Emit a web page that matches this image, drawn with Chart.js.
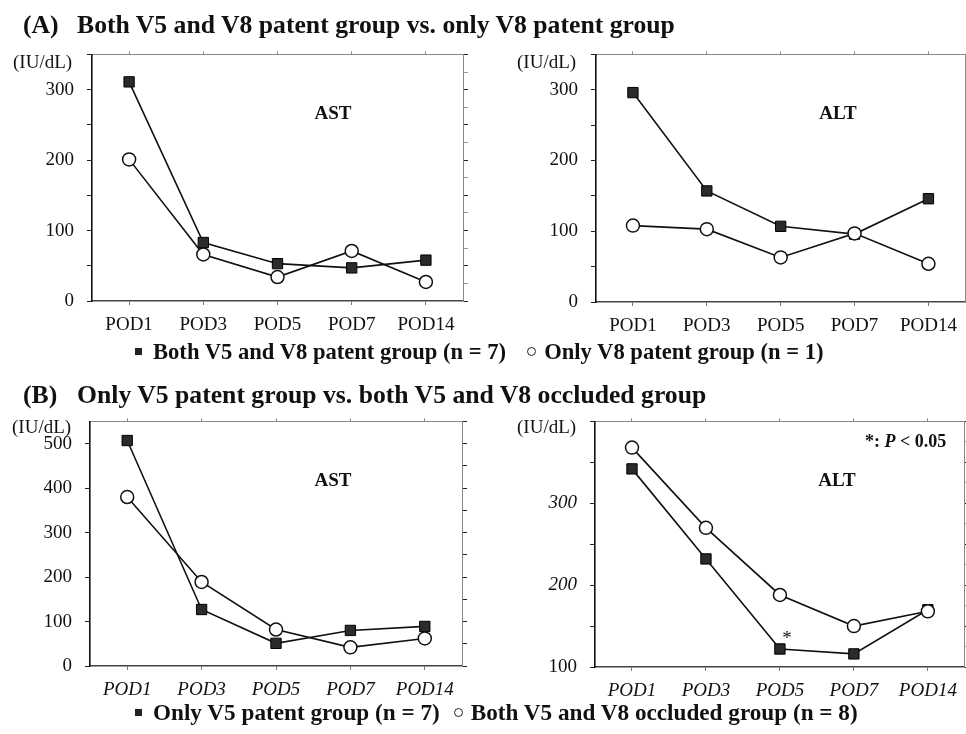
<!DOCTYPE html>
<html>
<head>
<meta charset="utf-8">
<script src="https://cdn.jsdelivr.net/npm/chart.js@4.4.1/dist/chart.umd.min.js"></script>
<style>
  body{margin:0;background:#fff;}
  #wrap{position:relative;width:966px;height:734px;overflow:hidden;font-family:'Liberation Serif','Times New Roman',serif;color:#111;}
  #wrap canvas{position:absolute;}
  .t{position:absolute;white-space:nowrap;line-height:30px;height:30px;z-index:2;}
  .title{font-size:25.7px;font-weight:bold;}
  .legend{font-weight:bold;}
  .unit{font-size:19px;}
  .lab{font-size:19px;font-weight:bold;transform:translateX(-50%);}
  .sq{display:inline-block;width:7px;height:7px;background:#222;vertical-align:middle;position:relative;top:-2px;}
  .ci{display:inline-block;width:7px;height:7px;border:1.3px solid #222;border-radius:50%;vertical-align:middle;position:relative;top:-2px;}
</style>
</head>
<body>
<div id="wrap">
  <div class="t title" style="left:23px;top:10px;">(A)</div>
  <div class="t title" style="left:77px;top:10px;">Both V5 and V8 patent group vs. only V8 patent group</div>
  <div class="t title" style="left:23px;top:380px;">(B)</div>
  <div class="t title" style="left:77px;top:380px;">Only V5 patent group vs. both V5 and V8 occluded group</div>

  <div class="t unit" style="left:13px;top:47px;">(IU/dL)</div>
  <div class="t unit" style="left:517px;top:47px;">(IU/dL)</div>
  <div class="t unit" style="left:12px;top:412px;">(IU/dL)</div>
  <div class="t unit" style="left:517px;top:412px;">(IU/dL)</div>

  <div class="t lab" style="left:333px;top:98px;">AST</div>
  <div class="t lab" style="left:838px;top:98px;">ALT</div>
  <div class="t lab" style="left:333px;top:465px;">AST</div>
  <div class="t lab" style="left:837px;top:465px;">ALT</div>
  <div class="t" style="left:865px;top:426px;font-size:18px;font-weight:bold;">*: <i>P</i> &lt; 0.05</div>

  <div class="t legend" style="left:135px;top:337px;font-size:22.6px;"><span class="sq"></span><span style="margin-left:11px;">Both V5 and V8 patent group (n = 7)</span><span class="ci" style="margin-left:21px;"></span><span style="margin-left:8px;">Only V8 patent group (n = 1)</span></div>
  <div class="t legend" style="left:135px;top:697px;font-size:23.2px;"><span class="sq"></span><span style="margin-left:11px;">Only V5 patent group (n = 7)</span><span class="ci" style="margin-left:14px;"></span><span style="margin-left:8px;">Both V5 and V8 occluded group (n = 8)</span></div>
</div>
<script>
var days = ['POD1', 'POD3', 'POD5', 'POD7', 'POD14'];

// (A) both V5+V8 patent vs only V8 patent
var astBothPatent = [311, 83, 53, 47, 58];
var astOnlyV8 = [201, 66, 34, 71, 27];
var altBothPatent = [296, 157, 107, 96, 146];
var altOnlyV8 = [108, 103, 63, 97, 54];

// (B) only V5 patent vs both occluded
var astOnlyV5 = [507, 127, 51, 80, 89];
var astOccluded = [380, 189, 82, 42, 62];
var altOnlyV5 = [342, 232, 122, 116, 170];
var altOccluded = [368, 270, 188, 150, 168];

// y axis: [min, max, step] and which ticks get a label
var astARange = [0, 350, 25], astATicks = [0, 100, 200, 300];
var altARange = [0, 350, 25], altATicks = [0, 100, 200, 300];
var astBRange = [0, 550, 50], astBTicks = [0, 100, 200, 300, 400, 500];
var altBRange = [100, 400, 25], altBTicks = [100, 200, 300];

var FONT = "'Liberation Serif', 'Times New Roman', serif";

//fix the box sizes so the plot areas land where the original ones are
var fit = function(key, val){
  return function(s){ s[key] = val; };
};

var starPlugin = {
  id: 'star',
  afterDatasetsDraw: function(chart){
    var ctx = chart.ctx, x = chart.scales.x.getPixelForValue(2), y = chart.scales.y.getPixelForValue(altOnlyV5[2]);
    ctx.save();
    ctx.font = '19px ' + FONT;
    ctx.fillStyle = '#111';
    ctx.textAlign = 'center';
    ctx.textBaseline = 'middle';
    ctx.fillText('*', x + 7, y - 10);
    ctx.restore();
  }
};

var makePanel = function(p){
  var canvas = document.createElement('canvas'), range = p.range, labelled = p.ticks;
  canvas.width = p.w;
  canvas.height = p.h;
  canvas.style.left = p.left + 'px';
  canvas.style.top = p.top + 'px';
  document.getElementById('wrap').insertBefore(canvas, document.getElementById('wrap').firstChild);

  var tickColor = function(c){
    return c.tick && c.tick.value % 50 === 0 ? '#222' : '#999';
  };
  var yScale = function(pos, w){
    return {
      type: 'linear', position: pos, min: range[0], max: range[1],
      afterFit: fit('width', w),
      grid: { drawOnChartArea: false, drawTicks: true, tickLength: 5, tickColor: tickColor },
      border: pos === 'left' ? { color: '#111', width: 1.6 } : { color: '#888', width: 1 },
      ticks: {
        display: pos === 'left', stepSize: range[2], maxTicksLimit: 100, padding: 13, color: '#111',
        font: function(c){ return { family: FONT, size: 19, style: p.yItalic && c.tick && p.yItalic.indexOf(c.tick.value) > -1 ? 'italic' : 'normal' }; },
        callback: function(v){ return labelled.indexOf(v) > -1 ? String(v) : ''; }
      }
    };
  };

  return new Chart(canvas.getContext('2d'), {
    type: 'line',
    data: {
      labels: days,
      datasets: [{
        label: p.names[0], data: p.square, order: 1,
        borderColor: '#111', borderWidth: 1.6,
        pointStyle: 'rect', pointRadius: 7.3, pointBackgroundColor: '#2b2b2b', pointBorderColor: '#000', pointBorderWidth: 1
      }, {
        label: p.names[1], data: p.circle, order: 0,
        borderColor: '#111', borderWidth: 1.6,
        pointStyle: 'circle', pointRadius: 6.5, pointBackgroundColor: '#fff', pointBorderColor: '#111', pointBorderWidth: 1.5
      }]
    },
    options: {
      responsive: false, animation: false, devicePixelRatio: 1,
      layout: { padding: 0, autoPadding: false },
      plugins: { legend: { display: false }, tooltip: { enabled: false } },
      scales: {
        x: {
          type: 'category', position: 'bottom', offset: true,
          afterFit: fit('height', p.xH),
          grid: { drawOnChartArea: false, drawTicks: true, tickLength: 4, offset: false, tickColor: '#777' },
          border: { color: '#444', width: 1.5 },
          ticks: { padding: 9, color: '#111', maxRotation: 0, autoSkip: false,
            font: { family: FONT, size: 19, style: p.italic ? 'italic' : 'normal' } }
        },
        x2: {
          type: 'category', position: 'top', offset: true, labels: days,
          afterFit: fit('height', p.x2H),
          grid: { drawOnChartArea: false, drawTicks: true, tickLength: 3, offset: false, tickColor: '#888' },
          border: { color: '#888', width: 1 },
          ticks: { display: false }
        },
        y: yScale('left', p.yW),
        y2: yScale('right', p.y2W)
      }
    },
    plugins: p.star ? [starPlugin] : []
  });
};

var panels = [
  { left: 0, top: 30, w: 480, h: 320, yW: 92, y2W: 17, x2H: 22, xH: 49,
    range: astARange, ticks: astATicks, square: astBothPatent, circle: astOnlyV8,
    names: ['Both V5 and V8 patent group (n = 7)', 'Only V8 patent group (n = 1)'] },
  { left: 480, top: 30, w: 486, h: 320, yW: 116, y2W: 0, x2H: 23, xH: 48,
    range: altARange, ticks: altATicks, square: altBothPatent, circle: altOnlyV8,
    names: ['Both V5 and V8 patent group (n = 7)', 'Only V8 patent group (n = 1)'] },
  { left: 0, top: 397, w: 480, h: 320, yW: 90, y2W: 18, x2H: 22, xH: 51, italic: true,
    range: astBRange, ticks: astBTicks, square: astOnlyV5, circle: astOccluded,
    names: ['Only V5 patent group (n = 7)', 'Both V5 and V8 occluded group (n = 8)'] },
  { left: 480, top: 397, w: 486, h: 320, yW: 115, y2W: 0, x2H: 23, xH: 50, italic: true, yItalic: [200, 300], star: true,
    range: altBRange, ticks: altBTicks, square: altOnlyV5, circle: altOccluded,
    names: ['Only V5 patent group (n = 7)', 'Both V5 and V8 occluded group (n = 8)'] }
];

panels.forEach(makePanel);
</script>
</body>
</html>
